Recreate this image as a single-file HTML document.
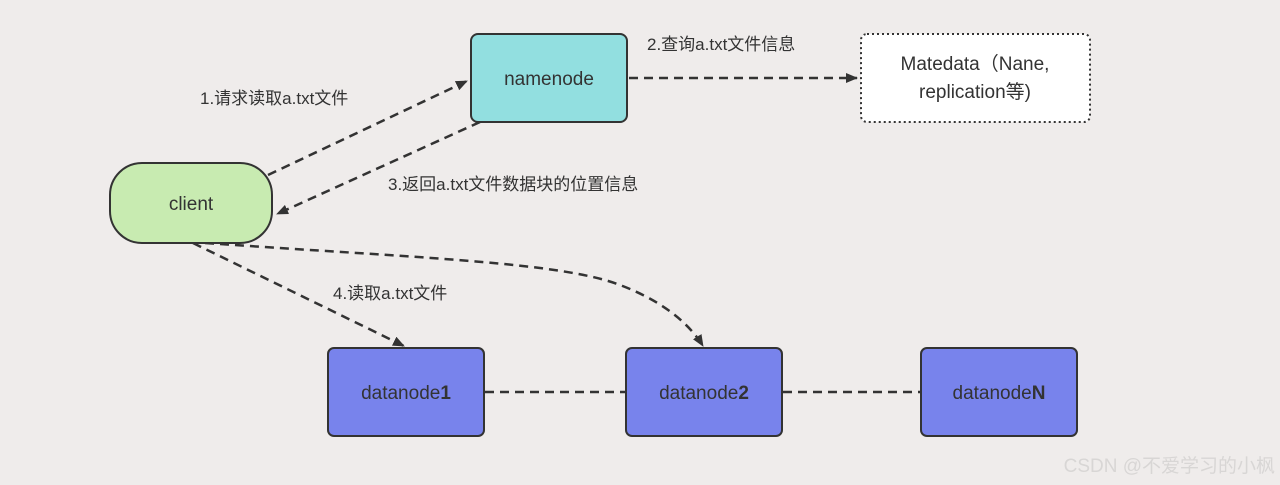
<!DOCTYPE html>
<html><head><meta charset="utf-8"><style>
html,body{margin:0;padding:0;background:#efeceb;}
svg{display:block;}
text{font-family:"Liberation Sans","Noto Sans CJK SC",sans-serif;fill:#333;}
</style></head><body>
<svg width="1280" height="485" viewBox="0 0 1280 485" xmlns="http://www.w3.org/2000/svg">
<defs>
<marker id="ar" markerWidth="12" markerHeight="10" refX="11" refY="5" orient="auto" markerUnits="userSpaceOnUse">
<path d="M0,0 L12,5 L0,10 Z" fill="#333"/>
</marker>
</defs>
<rect width="1280" height="485" fill="#efeceb"/>
<!-- connectors -->
<g stroke="#333" stroke-width="2.5" stroke-dasharray="9,6" fill="none">
<line x1="268" y1="175" x2="467" y2="81" marker-end="url(#ar)"/>
<line x1="480" y1="122" x2="277" y2="214" marker-end="url(#ar)"/>
<line x1="629" y1="78" x2="857" y2="78" marker-end="url(#ar)"/>
<line x1="193" y1="243" x2="404" y2="346" marker-end="url(#ar)"/>
<path d="M205,243 C420,258 560,262 620,285 C665,302 690,325 703,346" marker-end="url(#ar)"/>
<line x1="485" y1="392" x2="625" y2="392"/>
<line x1="783" y1="392" x2="920" y2="392"/>
</g>
<!-- nodes -->
<rect x="471" y="34" width="156" height="88" rx="7" fill="#92dfe0" stroke="#333" stroke-width="2"/>
<text x="549" y="85" font-size="19" text-anchor="middle">namenode</text>
<rect x="110" y="163" width="162" height="80" rx="32" fill="#c8ebb1" stroke="#333" stroke-width="2"/>
<text x="191" y="210" font-size="19" text-anchor="middle">client</text>
<rect x="861" y="34" width="229" height="88" rx="6" fill="#fff" stroke="#333" stroke-width="2" stroke-dasharray="2,3"/>
<text x="975" y="70" font-size="19" text-anchor="middle">Matedata（Nane,</text>
<text x="975" y="98" font-size="19" text-anchor="middle">replication等)</text>
<rect x="328" y="348" width="156" height="88" rx="6" fill="#7883ec" stroke="#333" stroke-width="2"/>
<text x="406" y="399" font-size="19" text-anchor="middle">datanode<tspan font-weight="bold">1</tspan></text>
<rect x="626" y="348" width="156" height="88" rx="6" fill="#7883ec" stroke="#333" stroke-width="2"/>
<text x="704" y="399" font-size="19" text-anchor="middle">datanode<tspan font-weight="bold">2</tspan></text>
<rect x="921" y="348" width="156" height="88" rx="6" fill="#7883ec" stroke="#333" stroke-width="2"/>
<text x="999" y="399" font-size="19" text-anchor="middle">datanode<tspan font-weight="bold">N</tspan></text>
<!-- labels -->
<text x="200" y="104" font-size="17">1.请求读取a.txt文件</text>
<text x="647" y="50" font-size="17">2.查询a.txt文件信息</text>
<text x="388" y="190" font-size="17">3.返回a.txt文件数据块的位置信息</text>
<text x="333" y="299" font-size="17">4.读取a.txt文件</text>
<text x="1275" y="472" font-size="19" text-anchor="end" style="fill:#d8d6d5">CSDN @不爱学习的小枫</text>
</svg>
</body></html>
